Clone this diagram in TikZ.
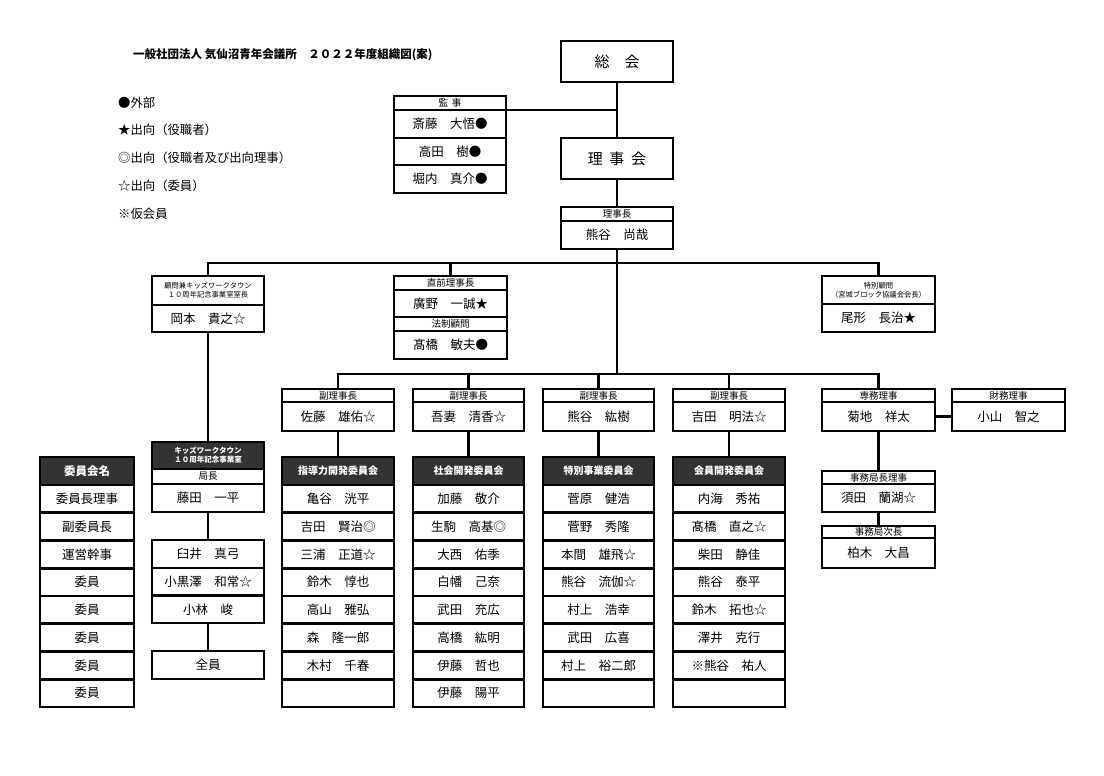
\documentclass[tikz,border=0pt]{standalone}
\usepackage{fontspec}
\setmainfont{Noto Sans CJK JP}
\definecolor{darkhead}{HTML}{333333}
\newcommand\cell[7]{\node[#6, minimum width={(#4)-(#2)}, minimum height={(#5)-(#3)}] (#1) at ({((#2)+(#4))/2},{((#3)+(#5))/2}) {#7};}
\newcommand\committee[5]{%
  \cell{#1h}{#2}{457}{#3}{485}{dk}{#4}
  \foreach \t [count=\i] in {#5} {%
    \cell{#1r\i}{#2}{485+27.75*(\i-1)}{#3}{485+27.75*\i}{nm}{\t}
  }%
}
\tikzset{
  cell/.style={draw, line width=2.6pt, inner sep=0pt, outer sep=0pt, align=center, text=black},
  hd/.style={cell, font=\fontsize{9.5}{10}\selectfont},
  hds/.style={cell, font=\fontsize{7.3}{9}\selectfont},
  nm/.style={cell, font=\fontsize{12.5}{14}\selectfont},
  big/.style={cell, font=\fontsize{15}{17}\selectfont},
  dk/.style={cell, fill=darkhead, text=white, font=\bfseries\fontsize{10}{11}\selectfont},
  dks/.style={cell, fill=darkhead, text=white, font=\bfseries\fontsize{7.5}{9}\selectfont},
  link/.style={draw, line width=2.6pt},
  legend/.style={anchor=west, inner sep=0pt, font=\fontsize{12.35}{14}\selectfont},
}
\begin{document}
\begin{tikzpicture}[x=1pt,y=-1pt]
\fill[white] (0,0) rectangle (1104,776);
\useasboundingbox (0,0) rectangle (1104,776);

% title and legend
\node[anchor=west, inner sep=0pt, font=\bfseries\fontsize{11.5}{13}\selectfont] (title) at (133,55) {一般社団法人 気仙沼青年会議所　２０２２年度組織図(案)};
\node[legend] (lg1) at (118,103) {●外部};
\node[legend] (lg2) at (118,130) {★出向（役職者）};
\node[legend] (lg3) at (118,158) {◎出向（役職者及び出向理事）};
\node[legend] (lg4) at (118,186) {☆出向（委員）};
\node[legend] (lg5) at (118,214) {※仮会員};

% top
\cell{sokai}{561}{41}{673}{82}{big}{総　会}
\cell{rijikai}{561}{138}{673}{179}{big}{理\hspace{0.45em}事\hspace{0.45em}会}
\cell{kanjiH}{394}{96}{506}{110}{hd}{監\hspace{0.4em}事}
\cell{kanji1}{394}{110}{506}{138}{nm}{斎藤　大悟●}
\cell{kanji2}{394}{138}{506}{165}{nm}{高田　樹●}
\cell{kanji3}{394}{165}{506}{193}{nm}{堀内　真介●}
\cell{rijichoH}{561}{207}{673}{221}{hd}{理事長}
\cell{rijicho}{561}{221}{673}{249}{nm}{熊谷　尚哉}

% second level
\cell{komonH}{152}{276}{264}{305}{hds}{顧問兼キッズワークタウン\\１０周年記念事業室室長}
\cell{komon}{152}{305}{264}{332}{nm}{岡本　貴之☆}
\cell{chokuzenH}{394}{276}{507}{290}{hd}{直前理事長}
\cell{chokuzen}{394}{290}{507}{317}{nm}{廣野　一誠★}
\cell{houseiH}{394}{317}{507}{331}{hd}{法制顧問}
\cell{housei}{394}{331}{507}{359}{nm}{髙橋　敏夫●}
\cell{tokuH}{822}{276}{935}{304}{hds}{特別顧問\\（宮城ブロック協議会会長）}
\cell{toku}{822}{304}{935}{332}{nm}{尾形　長治★}

% vice presidents
\cell{v1H}{282}{389}{394}{402}{hd}{副理事長}
\cell{v1}{282}{402}{394}{431}{nm}{佐藤　雄佑☆}
\cell{v2H}{413}{389}{524}{402}{hd}{副理事長}
\cell{v2}{413}{402}{524}{431}{nm}{吾妻　清香☆}
\cell{v3H}{543}{389}{654}{402}{hd}{副理事長}
\cell{v3}{543}{402}{654}{431}{nm}{熊谷　紘樹}
\cell{v4H}{673}{389}{785}{402}{hd}{副理事長}
\cell{v4}{673}{402}{785}{431}{nm}{吉田　明法☆}
\cell{senmuH}{822}{389}{935}{402}{hd}{専務理事}
\cell{senmu}{822}{402}{935}{431}{nm}{菊地　祥太}
\cell{zaimuH}{952}{389}{1065}{402}{hd}{財務理事}
\cell{zaimu}{952}{402}{1065}{431}{nm}{小山　智之}
\cell{jimuH}{822}{471}{935}{484}{hd}{事務局長理事}
\cell{jimu}{822}{484}{935}{512}{nm}{須田　蘭湖☆}
\cell{jijiH}{822}{526}{935}{538}{hd}{事務局次長}
\cell{jiji}{822}{538}{935}{568}{nm}{柏木　大昌}

% committees
\committee{c1}{282}{394}{指導力開発委員会}{亀谷　洸平,吉田　賢治◎,三浦　正道☆,鈴木　惇也,高山　雅弘,森　隆一郎,木村　千春,{}}
\committee{c2}{413}{524}{社会開発委員会}{加藤　敬介,生駒　高基◎,大西　佑季,白幡　己奈,武田　充広,高橋　紘明,伊藤　哲也,伊藤　陽平}
\committee{c3}{543}{654}{特別事業委員会}{菅原　健浩,菅野　秀隆,本間　雄飛☆,熊谷　流伽☆,村上　浩幸,武田　広喜,村上　裕二郎,{}}
\committee{c4}{673}{785}{会員開発委員会}{内海　秀祐,髙橋　直之☆,柴田　静佳,熊谷　泰平,鈴木　拓也☆,澤井　克行,※熊谷　祐人,{}}
\cell{c0h}{40}{457}{134}{485}{dk, font=\bfseries\fontsize{11.5}{13}\selectfont}{委員会名}
\foreach \t [count=\i] in {委員長理事,副委員長,運営幹事,委員,委員,委員,委員,委員} {%
  \cell{c0r\i}{40}{485+27.75*(\i-1)}{134}{485+27.75*\i}{nm}{\t}
}

% kids work town
\cell{kidsH}{152}{442}{264}{469}{dks}{キッズワークタウン\\１０周年記念事業室}
\cell{kyokuH}{152}{469}{264}{484}{hd}{局長}
\cell{kyoku}{152}{484}{264}{512}{nm}{藤田　一平}
\cell{g1}{152}{540}{264}{568}{nm}{臼井　真弓}
\cell{g2}{152}{568}{264}{595.5}{nm}{小黒澤　和常☆}
\cell{g3}{152}{595.5}{264}{623}{nm}{小林　峻}
\cell{zenin}{152}{651}{264}{679}{nm}{全員}

% connectors
\path[link] (sokai.south) -- (rijikai.north);
\path[link] (kanjiH.south east) -- (kanjiH.south east -| sokai.south);
\path[link] (rijikai.south) -- (rijichoH.north);
\coordinate (bar2) at (rijicho.south |- v1H.north);
\path[link] (rijicho.south) -- ([yshift=15pt]bar2);
\path[link] (komonH.north) -- ++(0,-13) -| (tokuH.north);
\path[link] (chokuzenH.north) -- ++(0,-13);
\path[link] (v1H.north) -- ++(0,-15) -| (senmuH.north);
\path[link] (v2H.north) -- ++(0,-15);
\path[link] (v3H.north) -- ++(0,-15);
\path[link] (v4H.north) -- ++(0,-15);
\path[link] (v1.south) -- (c1h.north);
\path[link] (v2.south) -- (c2h.north);
\path[link] (v3.south) -- (c3h.north);
\path[link] (v4.south) -- (c4h.north);
\path[link] (senmu.east) -- (zaimu.west);
\path[link] (senmu.south) -- (jimuH.north);
\path[link] (jimu.south) -- (jijiH.north);
\path[link] (komon.south) -- (kidsH.north);
\path[link] (kyoku.south) -- (g1.north);
\path[link] (g3.south) -- (zenin.north);
\end{tikzpicture}
\end{document}
